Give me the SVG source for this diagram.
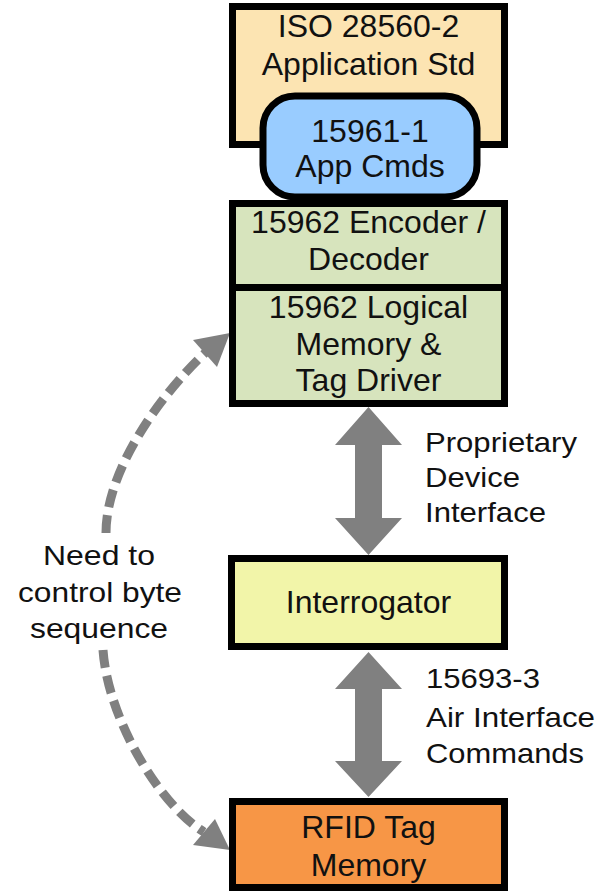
<svg xmlns="http://www.w3.org/2000/svg" width="602" height="893" viewBox="0 0 602 893">
<style>
.box{stroke:#000;stroke-width:7}
.t{font-family:"Liberation Sans",Arial,sans-serif;font-size:32px;fill:#111;text-anchor:middle}
.l{font-family:"Liberation Sans",Arial,sans-serif;font-size:28px;fill:#111}
.dash{fill:none;stroke:#808080;stroke-width:9;stroke-dasharray:18 8}
.ar{fill:#808080}
</style>
<rect width="602" height="893" fill="#fff"/>
<g id="connectors">
<polygon class="ar" points="368.5,407 402,445 382,445 382,518 402,518 368.5,555 335,518 355,518 355,445 335,445"/>
<polygon class="ar" points="368.5,652 402,689 382,689 382,761 402,761 368.5,797 335,761 355,761 355,689 335,689"/>
<path class="dash" d="M106,533 C106,470 160,395 206,352"/>
<polygon class="ar" points="230,333 193,340 217,367"/>
<path class="dash" d="M103,650 C108,720 160,805 204,832"/>
<polygon class="ar" points="230,850 193,845 215,819"/>
</g>
<g id="iso">
<rect class="box" x="232.5" y="6.5" width="272" height="138" fill="#FCE4B2"/>
<text class="t" x="368.5" y="37">ISO 28560-2</text>
<text class="t" x="368.5" y="75">Application Std</text>
</g>
<g id="appcmds">
<rect class="box" x="263" y="96" width="214" height="101" rx="32" ry="32" fill="#99CCFF" stroke-width="6"/>
<text class="t" x="370" y="142">15961-1</text>
<text class="t" x="370" y="177">App Cmds</text>
</g>
<g id="encoder">
<rect class="box" x="232.5" y="203.5" width="272" height="84" fill="#D7E4BD"/>
<text class="t" x="368.5" y="233">15962 Encoder /</text>
<text class="t" x="368.5" y="270">Decoder</text>
</g>
<g id="logical">
<rect class="box" x="232.5" y="287.5" width="272" height="116" fill="#D7E4BD"/>
<text class="t" x="368.5" y="318">15962 Logical</text>
<text class="t" x="368.5" y="355">Memory &amp;</text>
<text class="t" x="368.5" y="391">Tag Driver</text>
</g>
<g id="interrogator">
<rect class="box" x="231.5" y="558.5" width="273" height="88" fill="#F2F5A9"/>
<text class="t" x="368.5" y="613">Interrogator</text>
</g>
<g id="rfid">
<rect class="box" x="232.5" y="801.5" width="272" height="86" fill="#F79646"/>
<text class="t" x="368.5" y="838">RFID Tag</text>
<text class="t" x="368.5" y="876">Memory</text>
</g>
<g id="labels">
<text class="l" x="425" y="452" textLength="152" lengthAdjust="spacingAndGlyphs">Proprietary</text>
<text class="l" x="425" y="487" textLength="95" lengthAdjust="spacingAndGlyphs">Device</text>
<text class="l" x="425" y="522" textLength="121" lengthAdjust="spacingAndGlyphs">Interface</text>
<text class="l" x="426" y="688" textLength="114" lengthAdjust="spacingAndGlyphs">15693-3</text>
<text class="l" x="426" y="727" textLength="169" lengthAdjust="spacingAndGlyphs">Air Interface</text>
<text class="l" x="426" y="763" textLength="158" lengthAdjust="spacingAndGlyphs">Commands</text>
<text class="l" x="43" y="565" textLength="112" lengthAdjust="spacingAndGlyphs">Need to</text>
<text class="l" x="18" y="602" textLength="164" lengthAdjust="spacingAndGlyphs">control byte</text>
<text class="l" x="30" y="638" textLength="138" lengthAdjust="spacingAndGlyphs">sequence</text>
</g>
</svg>
